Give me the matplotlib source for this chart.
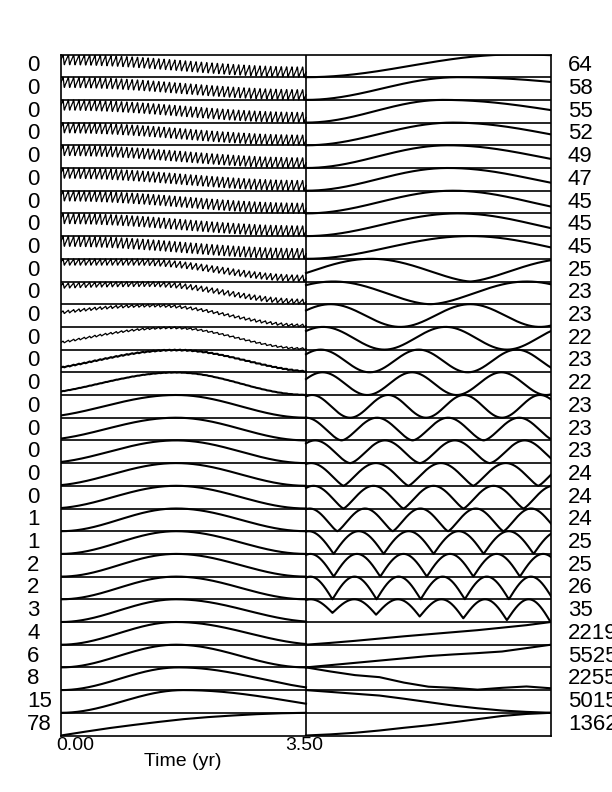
import numpy as np
import matplotlib.pyplot as plt

plt.rcParams['font.family'] = ['Liberation Sans', 'DejaVu Sans']

# row labels, top row first
left_labels = ['0'] * 20 + ['1', '1', '2', '2', '3', '4', '6', '8', '15', '78']
right_labels = ['64', '58', '55', '52', '49', '47', '45', '45', '45', '25',
                '23', '23', '22', '23', '22', '23', '23', '23', '24', '24',
                '24', '25', '25', '26', '35', '2219', '5525', '2255', '5015', '1362']

# left column, rows 1-29: slow hump (start value, peak position, end value)
# plus amplitude of the fast ripple riding on it
left_start = [1, 1, 1, 1, 1, 1, 1, 1, 1, 1, 0.9, 0.65, 0.3, 0.2, 0.15,
              0.1, 0.08, 0.05, 0.03, 0.02, 0, 0, 0, 0, 0, 0, 0, 0, 0]
left_peak = [0, 0, 0, 0, 0, 0, 0, 0, 0, 0.3, 0.35, 0.38, 0.45, 0.47, 0.47,
             0.47, 0.47, 0.47, 0.47, 0.47, 0.47, 0.47, 0.47, 0.47, 0.47, 0.47, 0.47, 0.48, 0.5]
left_end = [0, 0, 0, 0, 0, 0, 0, 0, 0, 0, 0, 0, 0, 0.02, 0,
            0, 0, 0, 0, 0, 0, 0, 0, 0, 0.02, 0.03, 0, 0.12, 0.4]
left_ripple = [0.45, 0.45, 0.45, 0.45, 0.45, 0.45, 0.45, 0.45, 0.45, 0.28, 0.22, 0.12, 0.08, 0.04, 0.015,
               0, 0, 0, 0, 0, 0, 0, 0, 0, 0, 0, 0, 0, 0]
ripple_cycles = 46
# left column, row 30
left_last = [0, 0.17, 0.33, 0.47, 0.6, 0.72, 0.81, 0.88, 0.94, 0.98, 1.0]

# right column, rows 1-9: humps rising from zero
right_peak = [0.85, 0.62, 0.56, 0.6, 0.58, 0.58, 0.6, 0.62, 0.67]
right_end = [0.97, 0.79, 0.55, 0.48, 0.4, 0.35, 0.3, 0.35, 0.5]

# right column, rows 10-25: oscillations (first trough, trough spacing, shape,
# trough depth at left and right end)
right_trough = [0.67, 0.507, 0.385, 0.32, 0.26, 0.25, 0.18, 0.145, 0.18, 0.153,
                0.153, 0.128, 0.113, 0.113, 0.108, 0.108]
right_spacing = [0.81, 0.79, 0.57, 0.5, 0.4, 0.365, 0.31, 0.29, 0.285, 0.265,
                 0.245, 0.226, 0.204, 0.19, 0.18, 0.178]
right_shape = [1.5, 1.7, 2, 2, 2, 2, 2, 1.6, 1.6, 1.3, 1.3, 1.3, 1, 1, 1, 1]
right_depth0 = [1] * 15 + [0.55]
right_depth1 = [1] * 15 + [1.0]

# right column, rows 26-30
right_tail = [
    [0, 0.08, 0.17, 0.27, 0.37, 0.46, 0.55, 0.64, 0.75, 0.86, 1.0],
    [0, 0.1, 0.2, 0.3, 0.4, 0.5, 0.57, 0.63, 0.7, 0.85, 1.0],
    [1.0, 0.82, 0.66, 0.57, 0.33, 0.15, 0.1, 0.02, 0.1, 0.16, 0.08],
    [1.0, 0.92, 0.84, 0.76, 0.62, 0.47, 0.32, 0.2, 0.1, 0.04, 0.0],
    [0, 0.05, 0.12, 0.22, 0.34, 0.45, 0.58, 0.72, 0.86, 0.95, 1.0],
]

nrows = len(left_labels)
u = np.linspace(0, 1, 1400)


def hump(s, p, e):
    s = min(s, 0.999)
    dl = p * np.pi / np.arccos(2 * s - 1) if p > 0 else 1.0
    dr = (1 - p) * np.pi / np.arccos(2 * e - 1)
    d = np.where(u < p, dl, dr)
    return 0.5 + 0.5 * np.cos(np.pi * (u - p) / d)


def wave(t0, per, a, d0, d1):
    dep = d0 + (d1 - d0) * u
    return 1 - dep * (1 - np.abs(np.sin(np.pi * (u - t0) / per)) ** a)


# sawtooth-like ripple
th = 2 * np.pi * ripple_cycles * u
fast = np.sin(th) - 0.45 * np.sin(2 * th) + 0.2 * np.sin(3 * th)
fast = (fast - fast.min()) / (fast.max() - fast.min())

fig = plt.figure(figsize=(6.12, 7.92), dpi=100)
W, H = 612, 792
x0, x1, y0, y1 = 61, 551, 54.5, 735.5
ax = fig.add_axes([x0 / W, 1 - y1 / H, (x1 - x0) / W, (y1 - y0) / H])
ax.set_xlim(0, 7)
ax.set_ylim(0, nrows)
ax.set_xticks([])
ax.set_yticks([])
for sp in ax.spines.values():
    sp.set_linewidth(1.2)

for k in range(1, nrows):
    ax.axhline(k, color='black', lw=1.2)
ax.axvline(3.5, color='black', lw=1.2)

for i in range(nrows):
    base = nrows - 1 - i
    # left column
    if i < nrows - 1:
        a = left_ripple[i]
        yl = (1 - a) * hump(left_start[i], left_peak[i], left_end[i]) + a * fast
        ax.plot(u * 3.5, base + yl, color='black', lw=0.9 if a > 0.05 else 1.5)
    else:
        ax.plot(np.linspace(0, 3.5, len(left_last)), base + np.array(left_last),
                color='black', lw=1.5)
    # right column
    if i < 9:
        yr = hump(0, right_peak[i], right_end[i])
        ax.plot(3.5 + u * 3.5, base + yr, color='black', lw=1.5)
    elif i < 25:
        j = i - 9
        yr = wave(right_trough[j], right_spacing[j], right_shape[j],
                  right_depth0[j], right_depth1[j])
        ax.plot(3.5 + u * 3.5, base + yr, color='black', lw=1.5)
    else:
        vals = right_tail[i - 25]
        ax.plot(np.linspace(3.5, 7, len(vals)), base + np.array(vals),
                color='black', lw=1.5)

    yc = 1 - (y0 + (i + 0.5) * (y1 - y0) / nrows) / H
    fig.text(27 / W, yc, left_labels[i], fontsize=16, ha='left', va='center')
    fig.text(568 / W, yc, right_labels[i], fontsize=16, ha='left', va='center')

fig.text(56 / W, 1 - 746 / H, '0.00', fontsize=14, ha='left', va='center')
fig.text(304 / W, 1 - 746 / H, '3.50', fontsize=14, ha='center', va='center')
fig.text(183 / W, 1 - 761 / H, 'Time (yr)', fontsize=14, ha='center', va='center')

fig.savefig('out.png', dpi=100)
